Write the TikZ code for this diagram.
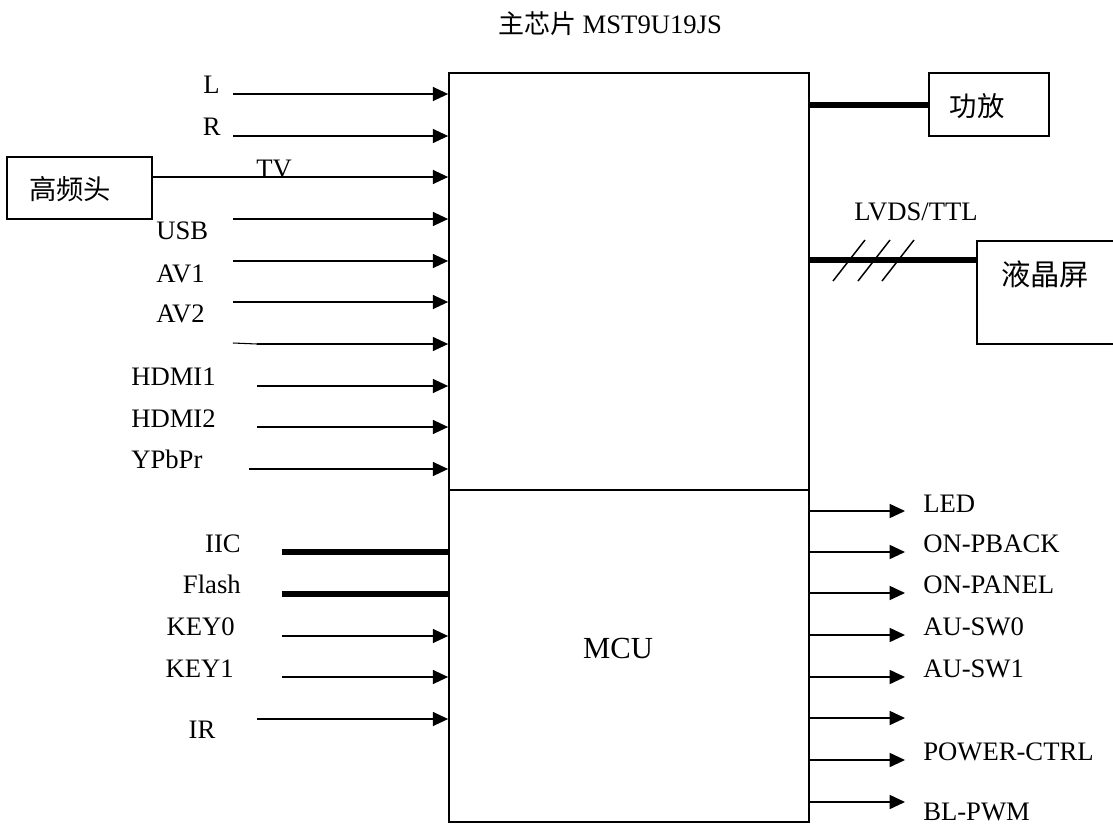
\documentclass[tikz,border=0pt]{standalone}
\usepackage{fontspec}
\setmainfont{Liberation Serif}
\newfontfamily\cjk{Noto Sans CJK SC}
\usetikzlibrary{arrows.meta}
\begin{document}
\begin{tikzpicture}[x=0.75pt,y=-0.75pt,
  lbl/.style={inner sep=0pt, font=\fontsize{20}{24}\selectfont},
  cjklbl/.style={inner sep=0pt, font=\fontsize{20.5}{24}\selectfont\cjk},
  arr/.style={line width=1.2pt, -{Triangle[length=11.5pt,width=10.5pt]}},
  bus/.style={line width=4.5pt},
  boxline/.style={line width=1.3pt},
  blk/.style={draw, line width=1.3pt, inner sep=0pt}]
\useasboundingbox (0,0) rectangle (1113,825);

% main chip
\node[blk, minimum width=270pt, minimum height=561.75pt] (chip) at (629,447.5) {};
\draw[boxline] (chip.west |- 0,490) -- (chip.east |- 0,490);
\node[lbl, font=\fontsize{23}{27}\selectfont, anchor=base] (mcu) at (618,658) {MCU};
\node[lbl, anchor=base] (title) at (610,33) {{\cjk\fontsize{19.5}{23}\selectfont 主芯片} MST9U19JS};

% tuner
\node[blk, minimum width=108.75pt, minimum height=46.5pt] (tuner) at (79.5,188) {};
\node[cjklbl] (tunert) at (70,189) {高频头};

% amplifier
\node[blk, minimum width=90pt, minimum height=47.25pt] (amp) at (989,104.5) {};
\node[cjklbl] (ampt) at (977,106) {功放};

% LCD (open at the right edge)
\node[inner sep=0pt, minimum width=102pt, minimum height=77.25pt] (lcd) at (1045,292.5) {};
\draw[boxline] (lcd.north east) -- (lcd.north west) -- (lcd.south west) -- (lcd.south east);
\node[cjklbl, font=\fontsize{22}{26}\selectfont\cjk] (lcdt) at (1045,274) {液晶屏};

% buses to amp and lcd
\draw[bus] (chip.east |- amp.west) -- (amp.west);
\draw[bus] (chip.east |- 0,260) -- (lcd.west |- 0,260);
\draw[line width=1.1pt] (833,281) -- (865,240) (858,281) -- (890,240) (882,281) -- (914,240);
\node[lbl] (lvds) at (916,212) {LVDS/TTL};

% left inputs
\coordinate (iL) at (233,94);
\coordinate (iR) at (233,136);
\coordinate (iUSB) at (233,219);
\coordinate (iAV1) at (233,261);
\coordinate (iAV2) at (233,302);
\coordinate (iX0) at (233,343);
\coordinate (iX) at (257,344);
\coordinate (iH1) at (257,386);
\coordinate (iH2) at (257,427);
\coordinate (iY) at (249,469);
\coordinate (iIIC) at (282,552);
\coordinate (iFl) at (282,594);
\coordinate (iK0) at (282,636);
\coordinate (iK1) at (282,677);
\coordinate (iIR) at (257,719);

\foreach \c in {iL,iR,iUSB,iAV1,iAV2,iX,iH1,iH2,iY,iK0,iK1,iIR}
  \draw[arr] (\c) -- (\c -| chip.west);
\draw[line width=0.8pt] (iX0) -- (iX);
\draw[arr] (tuner.east |- 0,177) -- (chip.west |- 0,177);
\draw[bus] (iIIC) -- (iIIC -| chip.west);
\draw[bus] (iFl) -- (iFl -| chip.west);

\node[lbl, anchor=base east] (tL) at (220,93) {L};
\node[lbl, anchor=base east] (tR) at (221,135) {R};
\node[lbl, anchor=base west] (tTV) at (256,177) {TV};
\node[lbl, anchor=base west] (tUSB) at (156,239) {USB};
\node[lbl, anchor=base west] (tAV1) at (156,282) {AV1};
\node[lbl, anchor=base west] (tAV2) at (156,322) {AV2};
\node[lbl, anchor=base west] (tH1) at (131,385) {HDMI1};
\node[lbl, anchor=base west] (tH2) at (131,427) {HDMI2};
\node[lbl, anchor=base west] (tY) at (131,468) {YPbPr};
\node[lbl, anchor=base east] (tIIC) at (241,552) {IIC};
\node[lbl, anchor=base east] (tFl) at (241,593) {Flash};
\node[lbl, anchor=base east] (tK0) at (235,635) {KEY0};
\node[lbl, anchor=base east] (tK1) at (234,677) {KEY1};
\node[lbl, anchor=base] (tIR) at (202,738) {IR};

% right outputs
\coordinate (oLED) at (905,511);
\coordinate (oPB) at (905,552);
\coordinate (oPN) at (905,593);
\coordinate (oS0) at (905,635);
\coordinate (oS1) at (905,677);
\coordinate (oX) at (905,718);
\coordinate (oPC) at (905,760);
\coordinate (oBL) at (905,802);
\foreach \c in {oLED,oPB,oPN,oS0,oS1,oX,oPC,oBL}
  \draw[arr] (chip.east |- \c) -- (\c);

\node[lbl, anchor=base west] (tLED) at (923,512) {LED};
\node[lbl, anchor=base west] (tPB) at (923,552) {ON-PBACK};
\node[lbl, anchor=base west] (tPN) at (923,593) {ON-PANEL};
\node[lbl, anchor=base west] (tS0) at (923,635) {AU-SW0};
\node[lbl, anchor=base west] (tS1) at (923,677) {AU-SW1};
\node[lbl, anchor=base west] (tPC) at (923,760) {POWER-CTRL};
\node[lbl, anchor=base west] (tBL) at (923,820) {BL-PWM};
\end{tikzpicture}
\end{document}
